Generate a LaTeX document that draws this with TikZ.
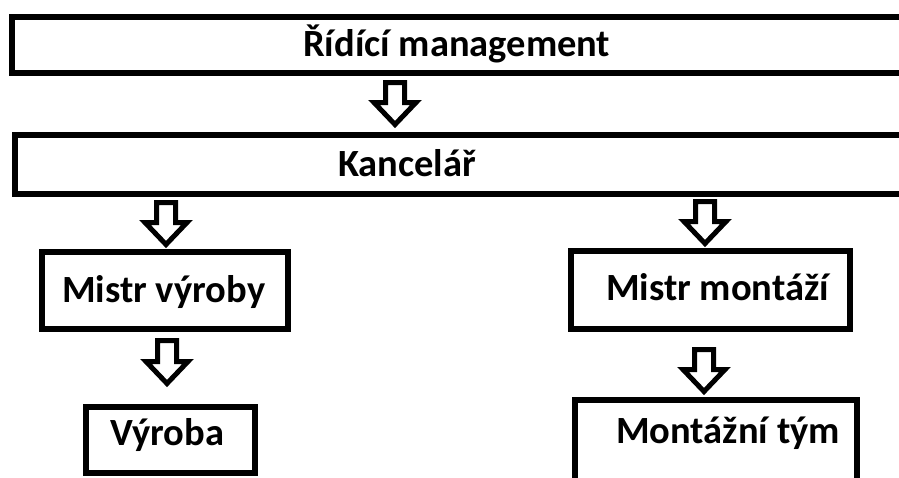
\documentclass[tikz,border=0pt]{standalone}
\usepackage{fontspec}
\setmainfont{Carlito}
\usetikzlibrary{calc}
\tikzset{
  boxnode/.style={draw=black, line width=6pt, inner sep=0pt, rectangle},
  txt/.style={inner sep=0pt, anchor=base west, font=\fontsize{38.5}{42}\selectfont\bfseries},
  barrow/.style={draw=black, fill=white, line width=5pt, line join=miter}
}
\newcommand\blockarrow[2]{%
  \draw[barrow] let \p1=(#1), \p2=(#2) in
    (\x1-9.5pt,\y1) -- (\x1+9.5pt,\y1) -- (\x1+9.5pt,\y2+22pt) -- (\x1+21pt,\y2+22pt)
    -- (\x1,\y2) -- (\x1-21pt,\y2+22pt) -- (\x1-9.5pt,\y2+22pt) -- cycle;}
\begin{document}
\begin{tikzpicture}[x=1pt,y=-1pt]
\useasboundingbox (0,0) rectangle (899,477);
\clip (0,0) rectangle (899,477);
\fill[white] (0,0) rectangle (899,477);
% boxes
\node[boxnode, minimum width=898pt, minimum height=56.5pt] (b1) at (461,44.75) {};
\node[boxnode, minimum width=895pt, minimum height=59pt] (b2) at (462.5,164.5) {};
\node[boxnode, minimum width=246pt, minimum height=77pt] (b3) at (165,290.5) {};
\node[boxnode, minimum width=169pt, minimum height=66pt] (b4) at (170.5,440) {};
\node[boxnode, minimum width=279pt, minimum height=78pt] (b5) at (710.5,290) {};
\node[boxnode, minimum width=282pt, minimum height=100pt] (b6) at (716,450) {};
% texts
\node[txt] (t1) at (303,56) {Řídící management};
\node[txt] (t2) at (338,176) {Kancelář};
\node[txt] (t3) at (62,302) {Mistr výroby};
\node[txt] (t4) at (110,445) {Výroba};
\node[txt] (t5) at (606,300) {Mistr montáží};
\node[txt] (t6) at (616,443) {Montážní tým};
% arrow end coordinates
\coordinate (a1s) at (395,82.5);  \coordinate (a1e) at (395,124.5);
\coordinate (a2s) at (166,202.5); \coordinate (a2e) at (166,244.5);
\coordinate (a3s) at (705,201.5); \coordinate (a3e) at (705,243.5);
\coordinate (a4s) at (167,340.5); \coordinate (a4e) at (167,383.5);
\coordinate (a5s) at (704,349.5); \coordinate (a5e) at (704,391.5);
\blockarrow{a1s}{a1e}
\blockarrow{a2s}{a2e}
\blockarrow{a3s}{a3e}
\blockarrow{a4s}{a4e}
\blockarrow{a5s}{a5e}
\end{tikzpicture}
\end{document}
